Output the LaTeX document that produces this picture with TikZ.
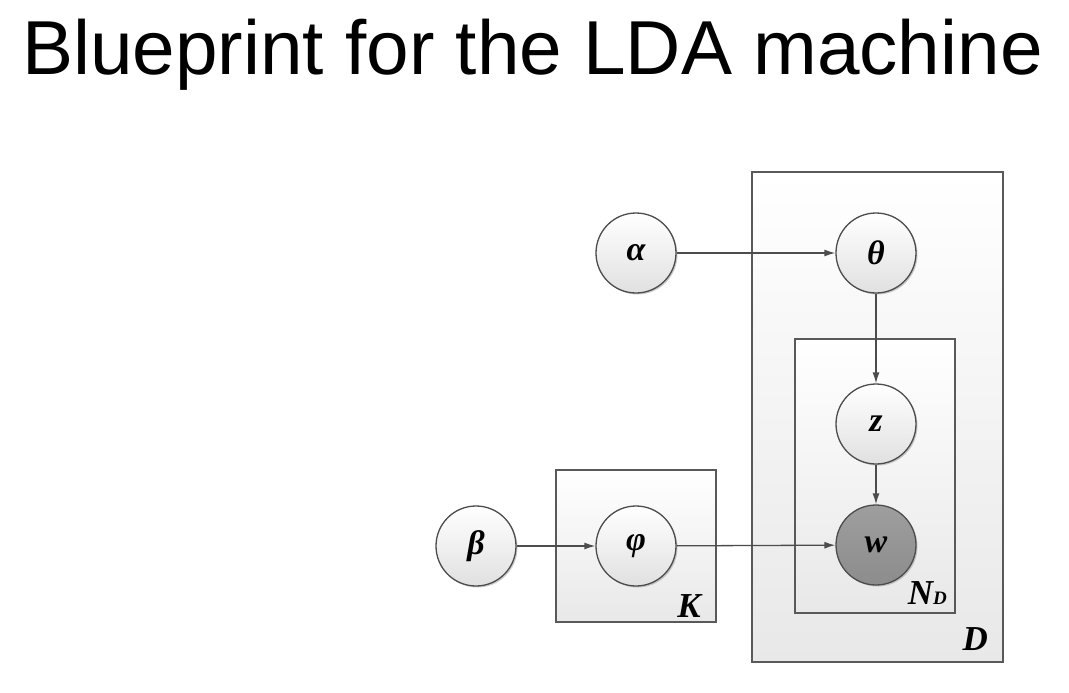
\documentclass[tikz,border=0pt]{standalone}
\usepackage{fontspec}
\setmainfont{Liberation Serif}
\newfontfamily\titlefont{Liberation Sans}
\usetikzlibrary{arrows.meta,shadows}
\begin{document}
\begin{tikzpicture}[x=1pt,y=-1pt,
  plate/.style={draw=black!65,line width=1.3pt,top color=white,bottom color=black!9},
  var/.style={circle,draw=black!70,line width=1.3pt,minimum size=80pt,inner sep=0pt,
    top color=white,bottom color=black!12,
    drop shadow={shadow xshift=1.5pt,shadow yshift=-1.5pt,opacity=0.4},
    font=\fontsize{34}{36}\selectfont\bfseries\itshape},
  obs/.style={var,top color=black!38,bottom color=black!45},
  lbl/.style={font=\fontsize{35}{36}\selectfont\bfseries\itshape,inner sep=0pt},
  edge/.style={draw=black!70,line width=1.3pt,-{Latex[length=11pt,width=7pt]}}]
\useasboundingbox (0,0) rectangle (1069,693);
\fill[white] (0,0) rectangle (1069,693);
\node[anchor=base west,inner sep=0pt,font=\titlefont\fontsize{76.5}{80}\selectfont] (title) at (22,75) {Blueprint for the LDA machine};
% plates
\path[plate] (752,172) rectangle (1003,662);
\path[plate] (795,339) rectangle (955,613);
\path[plate] (556,470) rectangle (716,622);
\node[lbl,anchor=base east] (Dl) at (988,650) {D};
\node[lbl,anchor=base east] (Kl) at (701,617) {K};
\node[lbl,anchor=base east] (Nl) at (947,604) {N\fontsize{19}{20}\selectfont D};
% nodes
\node[var] (alpha) at (636,253) {α};
\node[var] (theta) at (876,253) {θ};
\node[var] (z) at (876,424) {z};
\node[obs] (w) at (876,545) {w};
\node[var] (beta) at (476,546) {β};
\node[var] (phi) at (636,546) {φ};
% edges
\draw[edge] (alpha) -- (theta);
\draw[edge] (theta) -- (z);
\draw[edge] (z) -- (w);
\draw[edge] (beta) -- (phi);
\draw[edge] (phi) -- (w);
\end{tikzpicture}
\end{document}
